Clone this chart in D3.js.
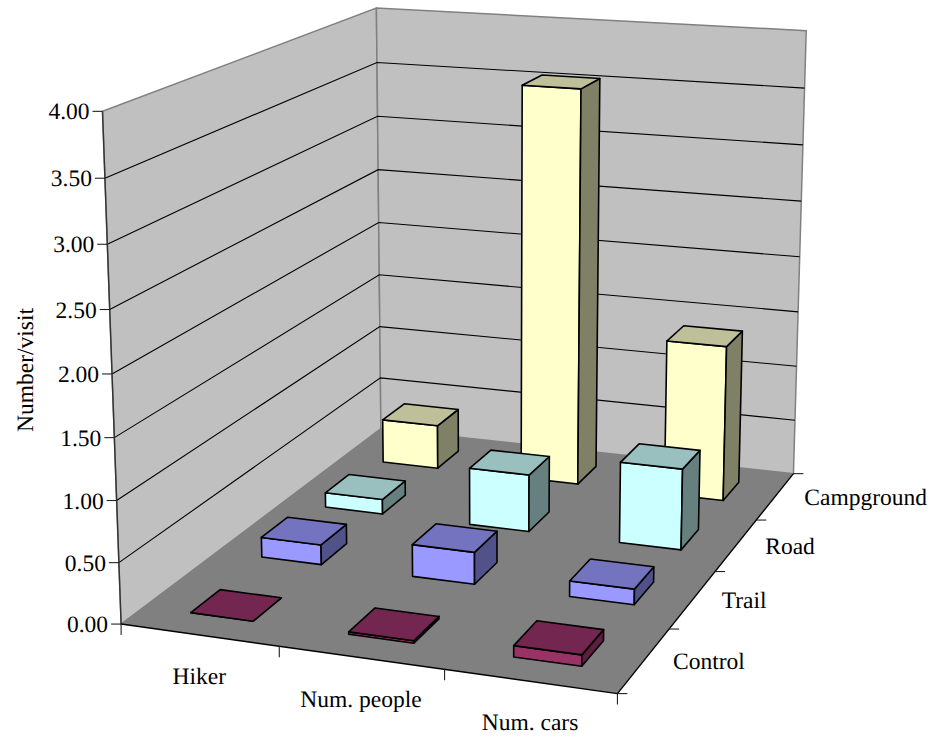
<!DOCTYPE html>
<html>
<head>
<meta charset="utf-8">
<script src="https://cdn.jsdelivr.net/npm/d3@7"></script>
<style>
html,body{margin:0;padding:0;background:#fff}
svg{display:block}
text{font-family:"Liberation Serif",serif;font-size:23.5px;fill:#000;text-rendering:geometricPrecision}
</style>
</head>
<body>
<div id="chart"></div>
<script>
// Survey categories along the front edge and sites along the depth edge
const measures = ["Hiker", "Num. people", "Num. cars"];
const sites = ["Control", "Trail", "Road", "Campground"];
const valueTicks = [0, 0.5, 1, 1.5, 2, 2.5, 3, 3.5, 4];

// Number per visit, one array per site, in the order of `measures`
const controlValues = [0.0, 0.02, 0.09];
const trailValues = [0.17, 0.27, 0.13];
const roadValues = [0.13, 0.5, 0.7];
const campgroundValues = [0.4, 3.55, 1.39];
const siteValues = [controlValues, trailValues, roadValues, campgroundValues];

// Front, top and side shades per site
const frontColors = ["#993366", "#9999ff", "#ccffff", "#ffffcc"];
const topColors = ["#732650", "#7373bf", "#99bfbf", "#bfbf99"];
const sideColors = ["#5c1f40", "#52528a", "#668080", "#808066"];

const width = 932, height = 738;

// Unit box coordinates to screen: [u, v, w] anchors of the chart box
const anchors = [
  [0, 0, 0, 122, 624], [1, 0, 0, 617, 694], [1, 1, 0, 794, 473], [0, 1, 0, 380, 429],
  [0, 0, 1, 102, 111], [0, 1, 1, 377, 8], [1, 1, 1, 806, 31]
];

function solveLeastSquares(rows, rhs) {
  const n = rows[0].length;
  const m = d3.range(n).map(i => {
    const row = d3.range(n).map(j => d3.sum(rows, r => r[i] * r[j]));
    row.push(d3.sum(rows, (r, k) => r[i] * rhs[k]));
    return row;
  });
  for (let c = 0; c < n; c++) {
    let p = c;
    for (let r = c + 1; r < n; r++) if (Math.abs(m[r][c]) > Math.abs(m[p][c])) p = r;
    [m[c], m[p]] = [m[p], m[c]];
    for (let r = 0; r < n; r++) {
      if (r === c) continue;
      const f = m[r][c] / m[c][c];
      for (let k = c; k <= n; k++) m[r][k] -= f * m[c][k];
    }
  }
  return d3.range(n).map(i => m[i][n] / m[i][i]);
}

// Perspective camera fitted to the anchors (screen values scaled for conditioning)
const camRows = [], camRhs = [];
anchors.forEach(([u, v, w, X, Y]) => {
  const x = X / 1000, y = Y / 1000;
  camRows.push([u, v, w, 1, 0, 0, 0, 0, -x * u, -x * v, -x * w]); camRhs.push(x);
  camRows.push([0, 0, 0, 0, u, v, w, 1, -y * u, -y * v, -y * w]); camRhs.push(y);
});
const cam = solveLeastSquares(camRows, camRhs);
function project(u, v, w) {
  const d = cam[8] * u + cam[9] * v + cam[10] * w + 1;
  return [1000 * (cam[0] * u + cam[1] * v + cam[2] * w + cam[3]) / d,
          1000 * (cam[4] * u + cam[5] * v + cam[6] * w + cam[7]) / d];
}

const xBand = d3.scaleBand().domain(measures).range([0, 1]).paddingInner(0.6).paddingOuter(0.3);
const yBand = d3.scaleBand().domain(sites).range([0, 1]).paddingInner(0.6).paddingOuter(0.3);
const zScale = d3.scaleLinear().domain([0, 4]).range([0, 1]);
const poly = pts => d3.line()(pts) + "Z";

const svg = d3.select("#chart").append("svg").attr("width", width).attr("height", height);

// Walls and floor
svg.append("path").attr("d", poly([[0,0,0],[0,1,0],[0,1,1],[0,0,1]].map(p => project(...p))))
  .attr("fill", "#c0c0c0").attr("stroke", "#808080").attr("stroke-width", 1.5);
svg.append("path").attr("d", poly([[0,1,0],[1,1,0],[1,1,1],[0,1,1]].map(p => project(...p))))
  .attr("fill", "#c0c0c0").attr("stroke", "#808080").attr("stroke-width", 1.5);

// Gridlines run along the left wall and on across the back wall
svg.append("g").selectAll("path").data(valueTicks.filter(t => t > 0 && t < 4)).join("path")
  .attr("fill", "none").attr("stroke", "#000").attr("stroke-width", 1.1)
  .attr("d", t => d3.line()([project(0, 0, zScale(t)), project(0, 1, zScale(t)), project(1, 1, zScale(t))]));

svg.append("path").attr("d", poly([[0,0,0],[1,0,0],[1,1,0],[0,1,0]].map(p => project(...p))))
  .attr("fill", "#808080").attr("stroke", "none");

// Axis lines
const axisLine = (a, b, col) => svg.append("path").attr("d", d3.line()([project(...a), project(...b)]))
  .attr("stroke", col).attr("stroke-width", 1.4).attr("fill", "none");
axisLine([0,0,0],[0,0,1], "#333");
axisLine([0,0,0],[1,0,0], "#000");
axisLine([1,0,0],[1,1,0], "#000");

// Value axis ticks and labels
const valueAxis = svg.append("g");
valueTicks.forEach(t => {
  const [x, y] = project(0, 0, zScale(t));
  valueAxis.append("line").attr("x1", x - 10).attr("x2", x).attr("y1", y).attr("y2", y).attr("stroke", "#222").attr("stroke-width", 1.1);
  valueAxis.append("text").attr("x", x - 13).attr("y", y + 8).attr("text-anchor", "end").text(d3.format(".2f")(t));
});

// Front edge ticks and labels
d3.range(measures.length + 1).forEach(i => {
  const [x, y] = project(i / measures.length, 0, 0);
  svg.append("line").attr("x1", x).attr("x2", x).attr("y1", y).attr("y2", y + 11).attr("stroke", "#222").attr("stroke-width", 1.1);
});
measures.forEach(m => {
  const [x, y] = project(xBand(m) + xBand.bandwidth() / 2, 0, 0);
  svg.append("text").attr("x", x).attr("y", y + 49).attr("text-anchor", "middle").text(m);
});

// Depth edge ticks and labels
d3.range(sites.length + 1).forEach(i => {
  const [x, y] = project(1, i / sites.length, 0);
  svg.append("line").attr("x1", x).attr("x2", x + 10).attr("y1", y).attr("y2", y).attr("stroke", "#222").attr("stroke-width", 1.1);
});
sites.forEach(s => {
  const [x, y] = project(1, yBand(s) + yBand.bandwidth() / 2, 0);
  svg.append("text").attr("x", x + 29).attr("y", y + 9).text(s);
});

// Rotated value axis title
svg.append("text").attr("transform", "translate(33,370) rotate(-90)").attr("text-anchor", "middle").text("Number/visit");

// Bars, painted from the far row forward and left to right
const bars = [];
d3.range(sites.length - 1, -1, -1).forEach(r => {
  measures.forEach((m, c) => bars.push({ r, m, value: siteValues[r][c] }));
});
const barG = svg.append("g").selectAll("g").data(bars).join("g")
  .attr("stroke", "#000").attr("stroke-width", 1.6).attr("stroke-linejoin", "round");
const corners = d => {
  const u0 = xBand(d.m), u1 = u0 + xBand.bandwidth();
  const v0 = yBand(sites[d.r]), v1 = v0 + yBand.bandwidth();
  return { u0, u1, v0, v1, w: zScale(d.value) };
};
barG.append("path").attr("fill", d => frontColors[d.r]).attr("d", d => {
  const { u0, u1, v0, w } = corners(d);
  return poly([project(u0, v0, 0), project(u1, v0, 0), project(u1, v0, w), project(u0, v0, w)]);
});
barG.append("path").attr("fill", d => sideColors[d.r]).attr("d", d => {
  const { u1, v0, v1, w } = corners(d);
  return poly([project(u1, v0, 0), project(u1, v1, 0), project(u1, v1, w), project(u1, v0, w)]);
});
barG.append("path").attr("fill", d => topColors[d.r]).attr("d", d => {
  const { u0, u1, v0, v1, w } = corners(d);
  return poly([project(u0, v0, w), project(u1, v0, w), project(u1, v1, w), project(u0, v1, w)]);
});
</script>
</body>
</html>
